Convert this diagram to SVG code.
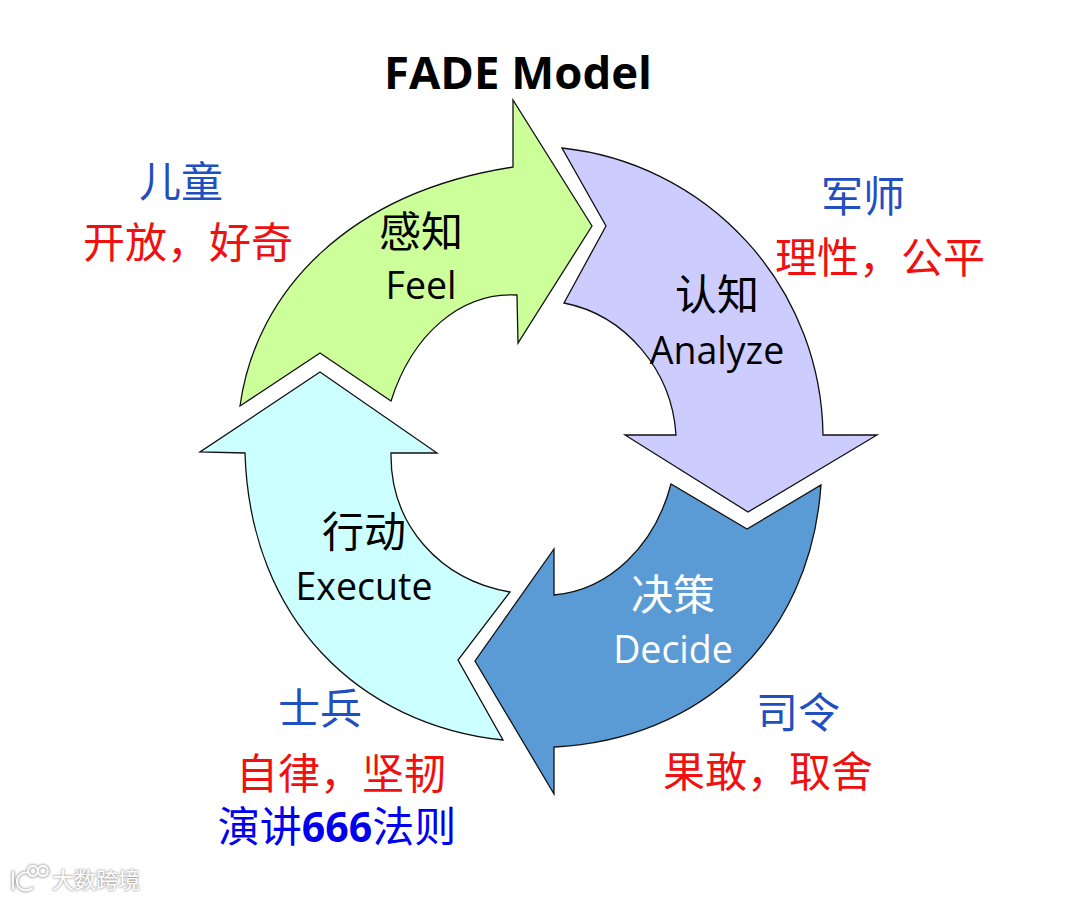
<svg xmlns="http://www.w3.org/2000/svg" width="1080" height="899" viewBox="0 0 1080 899">
<defs><filter id="glow" x="-20%" y="-30%" width="140%" height="160%"><feGaussianBlur stdDeviation="1.2"/></filter></defs>
<style>
.a{stroke:#111;stroke-width:1.3;stroke-linejoin:miter}
.cn{font-family:"Noto Sans CJK SC","Noto Sans CJK JP",sans-serif;font-size:42px;font-weight:400;text-anchor:middle}
.en{font-family:"Open Sans","Noto Sans",sans-serif;font-size:37.5px;text-anchor:middle}
.blue{fill:#1f4fc0}.red{fill:#f01010}
.wm{font-family:"Noto Sans CJK SC",sans-serif;font-size:22px}
.lg{fill:none;stroke-linecap:round}
</style>
<rect width="1080" height="899" fill="#fff"/>
<text x="518" y="89" text-anchor="middle" style="font-family:'Open Sans','Noto Sans',sans-serif;font-size:45.5px;font-weight:700">FADE Model</text>
<g id="connectors"></g>
<g id="feel"><path class="a" fill="#ccff99" d="M240 406C256 290 350 192 513 167L513 100L592 226L518 343L517 295C460 292 412 335 391 401L320 353Z"/>
<text class="cn" x="421" y="247">感知</text><text class="en" x="421" y="299">Feel</text></g>
<g id="analyze"><path class="a" fill="#ccccff" d="M562 148A292 292 0 0 1 823 435L877 435L748 512L625 435L676 435C672 370 625 315 564 303L606 226Z"/>
<text class="cn" x="717" y="310">认知</text><text class="en" x="717" y="364">Analyze</text></g>
<g id="decide"><path class="a" fill="#5b9bd5" d="M821 485C810 640 700 740 554 747L554 794L475 661L554 549L554 595C610 590 655 545 671 484L747 529Z"/>
<text class="cn" x="673" y="610" fill="#fff">决策</text><text class="en" x="673" y="663" fill="#fff">Decide</text></g>
<g id="execute"><path class="a" fill="#ccffff" d="M503 740C360 725 250 620 245 453L200 452L320 372L437 453L391 453C390 525 440 580 510 592L458 660Z"/>
<text class="cn" x="364" y="547">行动</text><text class="en" x="364" y="600">Execute</text></g>
<g id="label-feel"><text class="cn blue" x="181" y="197">儿童</text><text class="cn red" x="188" y="258">开放，好奇</text></g>
<g id="label-analyze"><text class="cn blue" x="863" y="212">军师</text><text class="cn red" x="880" y="273">理性，公平</text></g>
<g id="label-decide"><text class="cn blue" x="798" y="728">司令</text><text class="cn red" x="768" y="787">果敢，取舍</text></g>
<g id="label-execute"><text class="cn blue" x="320" y="724">士兵</text><text class="cn red" x="341" y="789">自律，坚韧</text>
<text class="cn" x="337" y="842" fill="#0000ee">演讲<tspan style="font-family:'Open Sans',sans-serif;font-weight:700;font-size:41px">666</tspan>法则</text></g>
<g id="watermark">
<g filter="url(#glow)" stroke="#aaa" stroke-width="1"><text class="wm" x="52" y="888" fill="#999">大数跨境</text>
<path class="lg" stroke-width="3.5" d="M13 872V889M29 873A9 9 0 1 0 32 888M33 866A5 5 0 1 1 32.9 866M43 866A5 5 0 1 1 42.9 866"/></g>
<text class="wm" x="52" y="888" fill="#fff">大数跨境</text>
<path class="lg" stroke="#fff" stroke-width="1.8" d="M13 872V889M29 873A9 9 0 1 0 32 888M33 866A5 5 0 1 1 32.9 866M43 866A5 5 0 1 1 42.9 866"/>
</g>
</svg>
